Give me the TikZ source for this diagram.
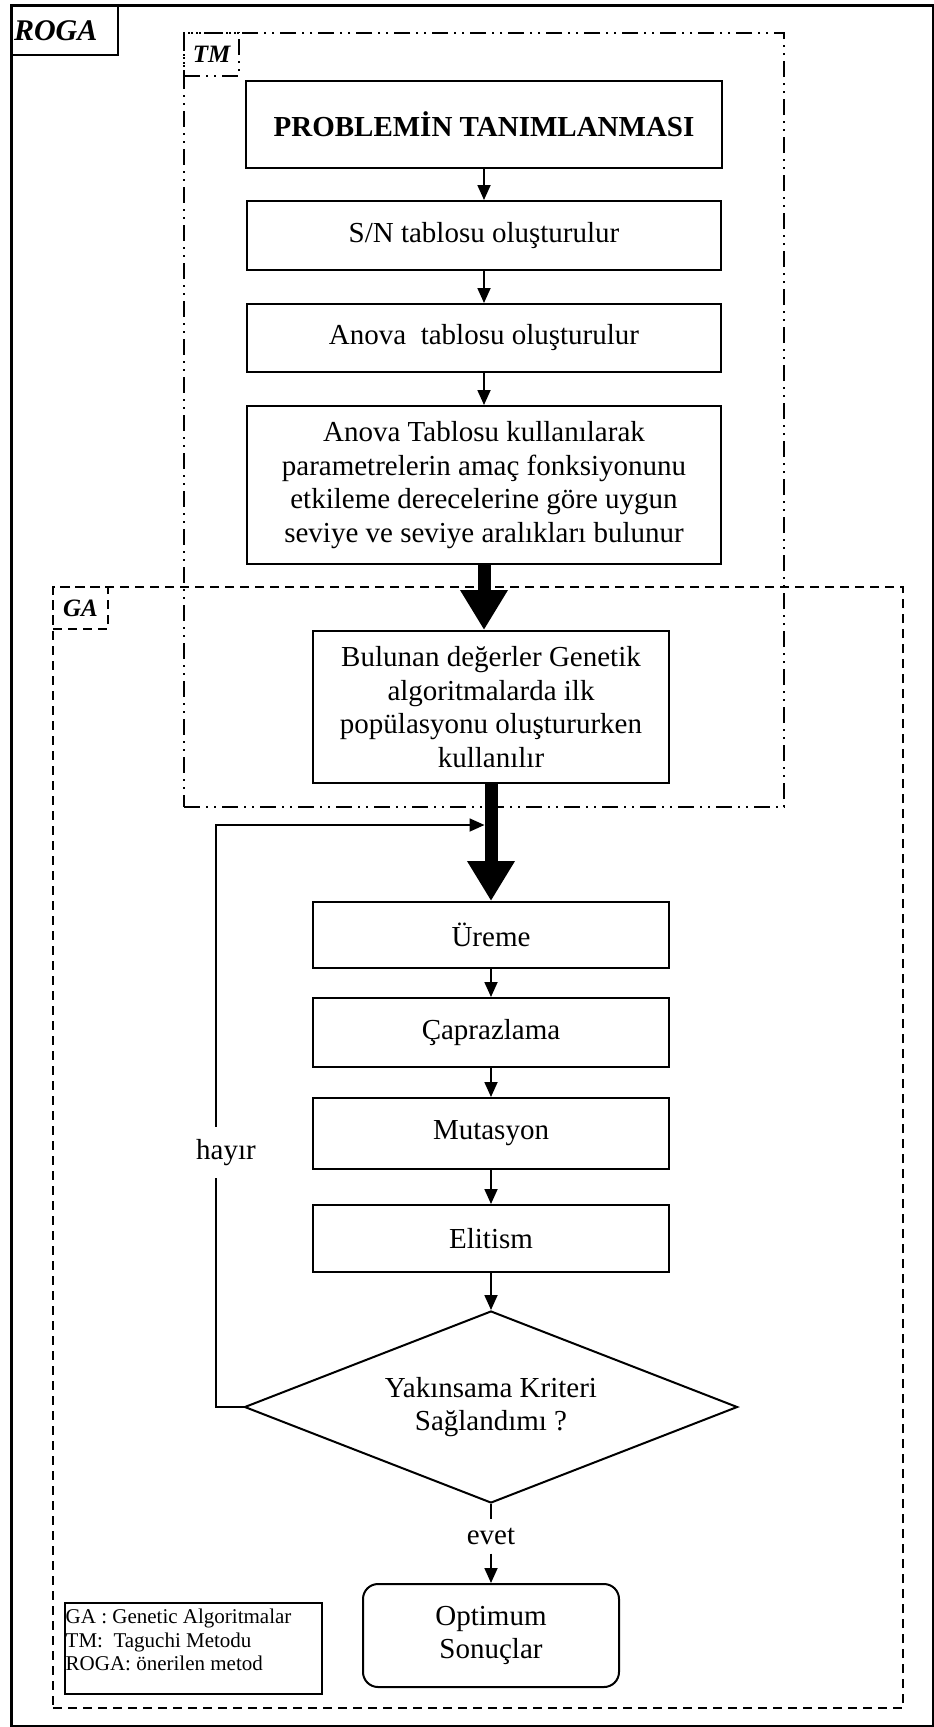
\documentclass[tikz,border=0pt]{standalone}
\usepackage{fontspec}
\setmainfont{Liberation Serif}
\usetikzlibrary{arrows.meta}
\usetikzlibrary{shapes.geometric}
\newcommand{\bigtext}{\fontsize{29}{33.5}\selectfont}
\newcommand{\smalltext}{\fontsize{21}{23.5}\selectfont}
\newcommand{\tagtext}{\fontsize{25}{28}\selectfont\bfseries\itshape}
\tikzset{
    stepbox/.style={draw, line width=2pt, fill=white, align=center, font=\bigtext, inner sep=0pt},
    tmframe/.style={draw, line width=2pt, dash pattern=on 16pt off 6pt on 2pt off 6pt on 2pt off 6pt},
    gaframe/.style={draw, line width=2pt, dash pattern=on 9pt off 6pt},
    tagbox/.style={font=\tagtext, inner sep=0pt, anchor=north west, minimum width=55},
    arr/.style={line width=1.8pt, -{Triangle[length=15pt, width=13pt]}},
    bigarr/.style={line width=13pt, -{Triangle[length=40pt, width=45pt]}},
    lbl/.style={font=\bigtext, fill=white, inner xsep=0pt}
}

\begin{document}
\begin{tikzpicture}[x=1pt, y=-1pt]
    \useasboundingbox (0,0) rectangle (934,1727);

    % frames
    \node[draw, line width=3.5pt, minimum width=922, minimum height=1721, anchor=north west] (roga) at (9.5,3.5) {};
    \node[draw, line width=2pt, font=\fontsize{30}{33}\selectfont\bfseries\itshape, anchor=north west,
          inner xsep=2pt, text width=102, align=left, minimum height=49] (rogatag) at (11,5) {ROGA};
    \node[tmframe, minimum width=600, minimum height=774, anchor=north west] (tm) at (183,32) {};
    \node[tmframe, tagbox, minimum height=43] (tmtag) at (tm.north west) {TM};
    \node[gaframe, minimum width=850, minimum height=1121, anchor=north west] (ga) at (52,586) {};
    \node[gaframe, tagbox, minimum height=42] (gatag) at (ga.north west) {GA};

    % Taguchi part
    \node[stepbox, font=\bigtext\bfseries, minimum width=476, minimum height=87] (prob) at (484,124.5) {PROBLEMİN TANIMLANMASI};
    \node[stepbox, minimum width=474, minimum height=69] (sn) at (484,235.5) {S/N tablosu oluşturulur};
    \node[stepbox, minimum width=474, minimum height=68] (anova) at (484,338) {Anova\ \ tablosu oluşturulur};
    \node[stepbox, minimum width=474, minimum height=158] (anovat) at (484,485)
        {Anova Tablosu kullanılarak\\parametrelerin amaç fonksiyonunu\\etkileme derecelerine göre uygun\\seviye ve seviye aralıkları bulunur};

    % GA part
    \node[stepbox, minimum width=356, minimum height=152] (bulunan) at (491,707)
        {Bulunan değerler Genetik\\algoritmalarda ilk\\popülasyonu oluştururken\\kullanılır};
    \node[stepbox, minimum width=356, minimum height=66] (ureme) at (491,935) {Üreme};
    \node[stepbox, minimum width=356, minimum height=69] (capraz) at (491,1032.5) {Çaprazlama};
    \node[stepbox, minimum width=356, minimum height=71] (mutasyon) at (491,1133.5) {Mutasyon};
    \node[stepbox, minimum width=356, minimum height=67] (elitism) at (491,1238.5) {Elitism};
    \node[stepbox, diamond, aspect=2.57, minimum width=493, minimum height=192] (dec) at (491,1407)
        {Yakınsama Kriteri\\Sağlandımı ?};
    \node[font=\bigtext, inner ysep=9pt, inner xsep=0pt] (evet) at (491,1536) {evet};
    \node[stepbox, rounded corners=15pt, minimum width=256, minimum height=103] (opt) at (491,1635.5)
        {Optimum\\Sonuçlar};

    % legend
    \node[draw, line width=2pt, minimum width=257, minimum height=91, anchor=north west] (legend) at (64,1602) {};
    \node[font=\smalltext, align=left, inner sep=0pt, anchor=north west] (legendtxt)
        at ([xshift=1.5pt, yshift=-7pt]legend.north west)
        {GA : Genetic Algoritmalar\\TM:\ \ Taguchi Metodu\\ROGA: önerilen metod};

    % arrows
    \foreach \a/\b in {prob/sn, sn/anova, anova/anovat, ureme/capraz, capraz/mutasyon, mutasyon/elitism, elitism/dec}
    {
        \draw[arr] (\a) -- (\b);
    }
    \draw[bigarr] (anovat.south) -- (anovat.south |- bulunan.north);
    \draw[bigarr] (bulunan) -- (ureme);
    \draw[line width=1.8pt] (dec.south) -- (evet.north);
    \draw[arr] (evet.south) -- (opt.north);

    % loop back
    \coordinate (fbot) at (216,1407);
    \coordinate (ftop) at (216,825);
    \coordinate (fend) at (484.5,825);
    \draw[arr] (dec.west) -- (fbot) -- (ftop) -- (fend);
    \node[lbl, inner ysep=12.5pt] (hayir) at (226,1152.5) {hayır};
\end{tikzpicture}
\end{document}
